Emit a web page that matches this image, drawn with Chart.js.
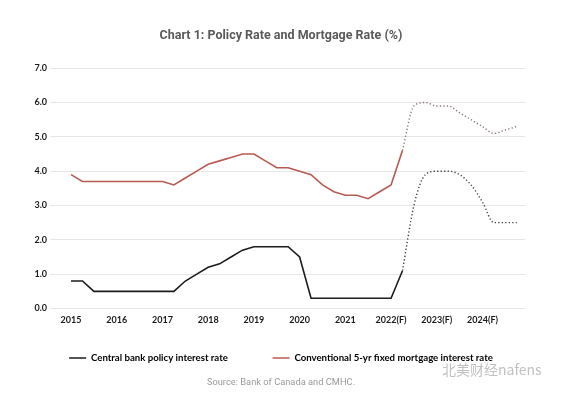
<!DOCTYPE html>
<html><head><meta charset="utf-8">
<style>html,body{margin:0;padding:0;background:#fff}#wrap{width:562px;height:395px}</style>
</head><body><div id="wrap"><canvas id="c" width="562" height="395"></canvas></div>
<script src="https://cdn.jsdelivr.net/npm/chart.js@4"></script>
<script>
const quarters = [
  '2015 Q1','2015 Q2','2015 Q3','2015 Q4','2016 Q1','2016 Q2','2016 Q3','2016 Q4',
  '2017 Q1','2017 Q2','2017 Q3','2017 Q4','2018 Q1','2018 Q2','2018 Q3','2018 Q4',
  '2019 Q1','2019 Q2','2019 Q3','2019 Q4','2020 Q1','2020 Q2','2020 Q3','2020 Q4',
  '2021 Q1','2021 Q2','2021 Q3','2021 Q4','2022 Q1','2022 Q2','2022 Q3','2022 Q4',
  '2023 Q1','2023 Q2','2023 Q3','2023 Q4','2024 Q1','2024 Q2','2024 Q3','2024 Q4'
];
const tickLabels = ['2015','2016','2017','2018','2019','2020','2021','2022(F)','2023(F)','2024(F)'];
const tickQuarterIndex = [0,4,8,12,16,20,24,28,32,36];
const yTickValues = [0,1,2,3,4,5,6,7];
const policyRate = [
  0.8,0.8,0.5,0.5, 0.5,0.5,0.5,0.5, 0.5,0.5,0.8,1.0, 1.2,1.3,1.5,1.7,
  1.8,1.8,1.8,1.8, 1.5,0.3,0.3,0.3, 0.3,0.3,0.3,0.3, 0.3,1.1,3.0,3.9,
  4.0,4.0,3.9,3.6, 3.1,2.5,2.5,2.5
];
const mortgageRate = [
  3.9,3.7,3.7,3.7, 3.7,3.7,3.7,3.7, 3.7,3.6,3.8,4.0, 4.2,4.3,4.4,4.5,
  4.5,4.3,4.1,4.1, 4.0,3.9,3.6,3.4, 3.3,3.3,3.2,3.4, 3.6,4.6,5.9,6.0,
  5.9,5.9,5.7,5.5, 5.3,5.1,5.2,5.3
];
const lastActualIndex = 29;
const seriesNames = ['Central bank policy interest rate','Conventional 5-yr fixed mortgage interest rate'];
const titleText = 'Chart 1: Policy Rate and Mortgage Rate (%)';
const sourceText = 'Source: Bank of Canada and CMHC.';
const watermarkText = '北美财经nafens';

const BLACK = '#1c1c1c';
const RED = '#b85a52';

function pts(arr, from, to){
  return arr.map((v,i)=>({x:i,y:v})).filter(p=>p.x>=from && p.x<=to);
}

const watermark = {
  id:'watermark',
  afterDraw(chart){
    const ctx = chart.ctx;
    ctx.save();
    ctx.font = '14px "Noto Sans CJK SC"';
    ctx.fillStyle = 'rgba(150,150,150,0.6)';
    ctx.textAlign = 'left';
    ctx.textBaseline = 'middle';
    ctx.fillText(watermarkText, 442, 370);
    ctx.restore();
  }
};

new Chart(document.getElementById('c'), {
  type:'line',
  data:{
    datasets:[
      {label:seriesNames[0], data:pts(policyRate,0,lastActualIndex), borderColor:BLACK, backgroundColor:BLACK, borderWidth:1.6, pointRadius:0, tension:0},
      {label:seriesNames[1], data:pts(mortgageRate,0,lastActualIndex), borderColor:RED, backgroundColor:RED, borderWidth:1.6, pointRadius:0, tension:0},
      {label:seriesNames[0]+' (F)', data:pts(policyRate,lastActualIndex,quarters.length-1), borderColor:'#444', borderWidth:1.4, borderDash:[1.3,2.2], pointRadius:0, cubicInterpolationMode:'monotone'},
      {label:seriesNames[1]+' (F)', data:pts(mortgageRate,lastActualIndex,quarters.length-1), borderColor:'#8f7774', borderWidth:1.4, borderDash:[1.3,2.2], pointRadius:0, cubicInterpolationMode:'monotone'}
    ]
  },
  options:{
    responsive:false,
    animation:false,
    devicePixelRatio:1,
    layout:{padding:0},
    plugins:{
      title:{display:true, text:titleText, color:'#5a5a5a', font:{family:'Roboto', size:12.5, weight:'bold'}, padding:{top:28,bottom:25.2}},
      subtitle:{display:true, position:'bottom', text:sourceText, color:'#9a9a9a', font:{family:'Roboto', size:9.3, weight:'normal'}, padding:{top:4.6,bottom:6.4}},
      legend:{
        position:'bottom',
        labels:{
          font:{family:'Lato', size:9.65, weight:'bold'}, color:'#1a1a1a',
          boxWidth:17, boxHeight:1.6, padding:44.7,
          generateLabels(chart){
            return [0,1].map(i=>({text:seriesNames[i], fillStyle:chart.data.datasets[i].borderColor, strokeStyle:chart.data.datasets[i].borderColor, lineWidth:0, datasetIndex:i, hidden:false}));
          }
        }
      },
      tooltip:{enabled:false}
    },
    scales:{
      x:{
        type:'linear', min:-1.84, max:39.72,
        grid:{display:false, drawTicks:false},
        border:{display:false},
        afterBuildTicks(scale){ scale.ticks = tickQuarterIndex.map(v=>({value:v})); },
        afterFit(scale){ scale.height = 0; },
        ticks:{
          autoSkip:false, maxRotation:0, mirror:true, padding:-17, color:'#1a1a1a',
          font:{family:'Lato', size:9, weight:'bold'},
          callback(v){ const k = tickQuarterIndex.indexOf(v); return k>=0 ? tickLabels[k] : ''; }
        }
      },
      y:{
        min:0, max:7,
        afterBuildTicks(scale){ scale.ticks = yTickValues.map(v=>({value:v})); },
        afterFit(scale){ scale.width = 50; },
        grid:{color:'#e6e6e6', lineWidth:1, drawTicks:false},
        border:{display:false},
        ticks:{padding:3, color:'#1a1a1a', font:{family:'Lato', size:9, weight:'bold'}, callback(v){ return v.toFixed(1); }}
      },
      yRight:{
        position:'right', display:true,
        grid:{display:false, drawTicks:false}, border:{display:false},
        ticks:{display:false},
        afterFit(scale){ scale.width = 37; }
      }
    }
  },
  plugins:[watermark]
});
</script></body></html>
